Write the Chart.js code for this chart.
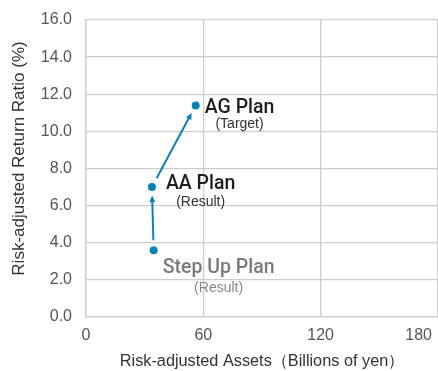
<!DOCTYPE html>
<html>
<head>
<meta charset="utf-8">
<script src="https://cdn.jsdelivr.net/npm/chart.js@4/dist/chart.umd.min.js"></script>
<style>
  html, body { margin: 0; padding: 0; background: #fff; }
  #wrap { width: 438px; height: 371px; }
</style>
</head>
<body>
<div id="wrap"><canvas id="c"></canvas></div>
<script>
// Plans in order of progression
const plans = ['Step Up Plan', 'AA Plan', 'AG Plan'];
const planNotes = ['(Result)', '(Result)', '(Target)'];
const assets = [34.6, 33.7, 56.1];      // risk-adjusted assets, billions of yen
const returnRatio = [3.6, 7.0, 11.4];   // risk-adjusted return ratio, %
const xTickValues = [0, 60, 120, 180];
const xTitle = 'Risk-adjusted Assets（Billions of yen）';
const yTitle = 'Risk-adjusted Return Ratio (%)';

const FONT = '"Liberation Sans", Arial, Helvetica, sans-serif';
const LABEL_FONT = 'Roboto, "Liberation Sans", Arial, sans-serif';
const BLUE = '#0b84b4';
const GRID = '#cdcdcd';

// Placement and look of each plan's caption, relative to its point
const captionStyle = [
  { dx: 9,  dy: 23, size: 19.5, color: '#7a7a7a', noteColor: '#888888', noteGap: 18.5 },
  { dx: 14, dy: 2,  size: 19.5, color: '#1e1e1e', noteColor: '#333333', noteGap: 17 },
  { dx: 9,  dy: 8,  size: 19.5, color: '#1e1e1e', noteColor: '#333333', noteGap: 14.5 }
];

const planPoints = assets.map((x, i) => ({ x, y: returnRatio[i] }));

const annotations = {
  id: 'annotations',
  afterDatasetsDraw(chart) {
    const ctx = chart.ctx;
    const pts = chart.getDatasetMeta(0).data;
    ctx.save();

    // arrows leading from each plan to the next
    ctx.strokeStyle = BLUE;
    ctx.fillStyle = BLUE;
    ctx.lineWidth = 2;
    for (let i = 0; i < pts.length - 1; i++) {
      const a = pts[i], b = pts[i + 1];
      const ang = Math.atan2(b.y - a.y, b.x - a.x);
      const c = Math.cos(ang), s = Math.sin(ang);
      const x0 = a.x + c * 10, y0 = a.y + s * 10;
      const x1 = b.x - c * 8.5, y1 = b.y - s * 8.5;
      const head = 6.5, half = 3;
      ctx.beginPath();
      ctx.moveTo(x0, y0);
      ctx.lineTo(x1 - c * head * 0.6, y1 - s * head * 0.6);
      ctx.stroke();
      ctx.beginPath();
      ctx.moveTo(x1, y1);
      ctx.lineTo(x1 - c * head - s * half, y1 - s * head + c * half);
      ctx.lineTo(x1 - c * head + s * half, y1 - s * head - c * half);
      ctx.closePath();
      ctx.fill();
    }

    // plan names with their notes centred underneath
    ctx.textBaseline = 'alphabetic';
    pts.forEach((p, i) => {
      const st = captionStyle[i];
      ctx.font = `500 ${st.size}px ${LABEL_FONT}`;
      ctx.fillStyle = st.color;
      ctx.textAlign = 'left';
      const tx = p.x + st.dx, ty = p.y + st.dy;
      const w = ctx.measureText(plans[i]).width;
      ctx.fillText(plans[i], tx, ty);
      ctx.font = `14px ${FONT}`;
      ctx.fillStyle = st.noteColor;
      ctx.textAlign = 'center';
      ctx.fillText(planNotes[i], tx + w / 2, ty + st.noteGap);
    });
    ctx.restore();
  },
  afterDraw(chart) {
    const ctx = chart.ctx;
    const xs = chart.scales.x;
    const area = chart.chartArea;
    ctx.save();
    // x tick labels, kept inside the canvas at the right edge
    ctx.font = `16px ${FONT}`;
    ctx.fillStyle = '#555555';
    ctx.textAlign = 'center';
    ctx.textBaseline = 'middle';
    xTickValues.forEach(v => {
      const label = String(v);
      const w = ctx.measureText(label).width;
      const px = Math.min(xs.getPixelForValue(v), chart.width - 6 - w / 2);
      ctx.fillText(label, px, xs.top + 19);
    });
    // y axis title, a little above the middle of the plot
    ctx.translate(19, (area.top + area.bottom) / 2 - 10);
    ctx.rotate(-Math.PI / 2);
    ctx.font = `17px ${FONT}`;
    ctx.fillStyle = '#333333';
    ctx.fillText(yTitle, 0, 0);
    ctx.restore();
  }
};

new Chart(document.getElementById('c'), {
  type: 'scatter',
  data: {
    datasets: [{
      data: planPoints,
      backgroundColor: BLUE,
      borderWidth: 0,
      pointRadius: 4,
      pointHoverRadius: 4
    }]
  },
  options: {
    responsive: true,
    maintainAspectRatio: false,
    animation: false,
    events: [],
    layout: { autoPadding: false, padding: { top: 20, right: -2, left: 0, bottom: 0 } },
    plugins: { legend: { display: false }, tooltip: { enabled: false } },
    scales: {
      x: {
        type: 'linear',
        min: 0,
        max: 180,
        afterBuildTicks: s => { s.ticks = xTickValues.map(v => ({ value: v })); },
        afterFit: s => { s.height = 54; s.paddingLeft = 0; s.paddingRight = 0; },
        ticks: { display: false },
        grid: { color: GRID, lineWidth: 1.3, drawTicks: false },
        border: { color: GRID, width: 1.3 },
        title: {
          display: true,
          text: xTitle,
          color: '#333333',
          font: { family: FONT, size: 16.3 },
          padding: { top: 0, bottom: 0 }
        }
      },
      y: {
        min: 0,
        max: 16,
        afterFit: s => { s.width = 86; s.paddingTop = 0; s.paddingBottom = 0; },
        ticks: {
          stepSize: 2,
          padding: 14,
          color: '#555555',
          font: { family: FONT, size: 16 },
          callback: v => v.toFixed(1)
        },
        grid: { color: GRID, lineWidth: 1.3, drawTicks: false },
        border: { color: GRID, width: 1.3 }
      }
    }
  },
  plugins: [annotations]
});
</script>
</body>
</html>
